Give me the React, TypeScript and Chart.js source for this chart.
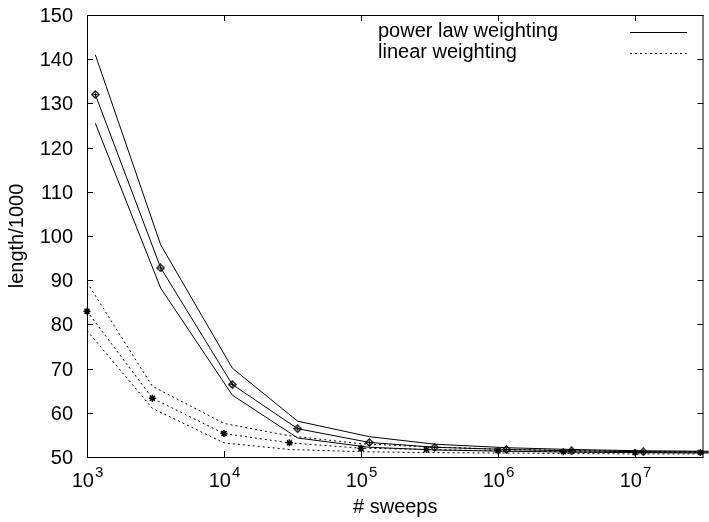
import React, { useEffect, useRef } from "react";
import { Chart, registerables } from "chart.js";

Chart.register(...registerables);

// x values (number of sweeps)
const sweepsLinear = [1e3, 3e3, 1e4, 3e4, 1e5, 3e5, 1e6, 3e6, 1e7, 3e7];
const sweepsPower = [1.15e3, 3.45e3, 1.15e4, 3.45e4, 1.15e5, 3.45e5, 1.15e6, 3.45e6, 1.15e7, 3.45e7];

// power law weighting (length/1000): mean, upper and lower bounds
const powerMean = [132, 92.8, 66.4, 56.4, 53.3, 52.2, 51.7, 51.4, 51.2, 51.1];
const powerUpper = [141, 98, 70.1, 58.1, 54.6, 52.9, 52.1, 51.7, 51.4, 51.3];
const powerLower = [125.5, 88.2, 64, 54.3, 52.2, 51.6, 51.3, 51.1, 51.0, 50.9];

// linear weighting (length/1000): mean, upper and lower bounds
const linearMean = [83, 63.3, 55.3, 53.2, 52.0, 51.7, 51.4, 51.2, 51.0, 51.0];
const linearUpper = [89.5, 66, 57.6, 54.8, 53.0, 52.3, 51.8, 51.5, 51.3, 51.2];
const linearLower = [78.6, 61, 53.2, 51.7, 51.2, 51.0, 50.9, 50.8, 50.7, 50.7];

// axis ticks
const yTickValues = [50, 60, 70, 80, 90, 100, 110, 120, 130, 140, 150];
const xTickExponents = [3, 4, 5, 6, 7];

const legendLabels = ["power law weighting", "linear weighting"];
const xTitle = "# sweeps";
const yTitle = "length/1000";

const FONT = '"Liberation Sans", Arial, Helvetica, sans-serif';

function makeDiamondMarker(): HTMLCanvasElement {
  const c = document.createElement("canvas");
  c.width = 9;
  c.height = 9;
  const g = c.getContext("2d")!;
  g.strokeStyle = "#000";
  g.lineWidth = 1.2;
  g.beginPath();
  g.moveTo(4.5, 0.8);
  g.lineTo(8.2, 4.5);
  g.lineTo(4.5, 8.2);
  g.lineTo(0.8, 4.5);
  g.closePath();
  g.stroke();
  g.lineWidth = 1;
  g.beginPath();
  g.moveTo(2.5, 4.5);
  g.lineTo(6.5, 4.5);
  g.moveTo(4.5, 2.5);
  g.lineTo(4.5, 6.5);
  g.stroke();
  return c;
}

const framePlugin = {
  id: "gnuplotFrame",
  afterDraw(chart: any) {
    const { ctx, chartArea, scales } = chart;
    const { left, right, top, bottom } = chartArea;
    const xs = scales.x;
    const ys = scales.y;
    ctx.save();
    ctx.strokeStyle = "#000";
    ctx.fillStyle = "#000";
    ctx.lineWidth = 1;
    ctx.setLineDash([]);
    ctx.strokeRect(left + 0.5, top + 0.5, right - left - 1, bottom - top);
    const TL = 6;
    ctx.font = `20px ${FONT}`;
    ctx.textAlign = "right";
    ctx.textBaseline = "middle";
    for (const v of yTickValues) {
      const py = Math.round(ys.getPixelForValue(v)) + 0.5;
      ctx.beginPath();
      ctx.moveTo(left, py);
      ctx.lineTo(left + TL, py);
      ctx.moveTo(right - TL, py);
      ctx.lineTo(right, py);
      ctx.stroke();
      ctx.fillText(String(v), 73, py + 1);
    }
    for (const e of xTickExponents) {
      const px = Math.round(xs.getPixelForValue(Math.pow(10, e))) + 0.5;
      ctx.beginPath();
      ctx.moveTo(px, bottom);
      ctx.lineTo(px, bottom - TL);
      ctx.moveTo(px, top);
      ctx.lineTo(px, top + TL);
      ctx.stroke();
      ctx.font = `20px ${FONT}`;
      const w1 = ctx.measureText("10").width;
      ctx.font = `15px ${FONT}`;
      const w2 = ctx.measureText(String(e)).width;
      const start = px - (w1 + w2 + 1) / 2;
      ctx.textAlign = "left";
      ctx.textBaseline = "alphabetic";
      ctx.font = `20px ${FONT}`;
      ctx.fillText("10", start, 487);
      ctx.font = `15px ${FONT}`;
      ctx.fillText(String(e), start + w1 + 1, 477);
    }
    ctx.font = `20px ${FONT}`;
    ctx.textAlign = "center";
    ctx.textBaseline = "alphabetic";
    ctx.fillText(xTitle, (left + right) / 2, 513);
    ctx.save();
    ctx.translate(17, (top + bottom) / 2);
    ctx.rotate(-Math.PI / 2);
    ctx.textBaseline = "middle";
    ctx.fillText(yTitle, 0, 0);
    ctx.restore();
    ctx.textAlign = "left";
    ctx.textBaseline = "middle";
    ctx.fillText(legendLabels[0], 378, 31);
    ctx.fillText(legendLabels[1], 378, 52);
    ctx.beginPath();
    ctx.moveTo(630, 32.5);
    ctx.lineTo(687, 32.5);
    ctx.stroke();
    ctx.setLineDash([2, 3]);
    ctx.beginPath();
    ctx.moveTo(630, 53.5);
    ctx.lineTo(687, 53.5);
    ctx.stroke();
    ctx.restore();
  },
};

export default function App() {
  const ref = useRef<HTMLCanvasElement>(null);
  useEffect(() => {
    document.body.style.margin = "0";
    const canvas = ref.current!;
    const pts = (xs: number[], ys: number[]) => xs.map((x, i) => ({ x, y: ys[i] }));
    const solid: any = {
      borderColor: "#000",
      borderWidth: 1,
      pointRadius: 0,
      fill: false,
      tension: 0,
      clip: false,
    };
    const dotted: any = { ...solid, borderDash: [2, 3] };
    const chart = new Chart(canvas, {
      type: "line",
      data: {
        datasets: [
          { ...solid, data: pts(sweepsPower, powerUpper) },
          {
            ...solid,
            data: pts(sweepsPower, powerMean),
            pointStyle: makeDiamondMarker(),
            pointRadius: 4,
          },
          { ...solid, data: pts(sweepsPower, powerLower) },
          { ...dotted, data: pts(sweepsLinear, linearUpper) },
          {
            ...dotted,
            data: pts(sweepsLinear, linearMean),
            pointStyle: "star",
            pointRadius: 3.5,
            pointBorderColor: "#000",
            pointBorderWidth: 1.5,
          },
          { ...dotted, data: pts(sweepsLinear, linearLower) },
        ],
      } as any,
      options: {
        animation: false,
        responsive: false,
        layout: { padding: { left: 87, top: 15, right: 1, bottom: 65 } },
        plugins: { legend: { display: false }, tooltip: { enabled: false } },
        scales: {
          x: { type: "logarithmic", min: 1e3, max: Math.pow(10, 7.5), display: false },
          y: { type: "linear", min: 50, max: 150, display: false },
        },
      } as any,
      plugins: [framePlugin],
    });
    return () => chart.destroy();
  }, []);
  return <canvas ref={ref} width={709} height={522} style={{ display: "block" }} />;
}
